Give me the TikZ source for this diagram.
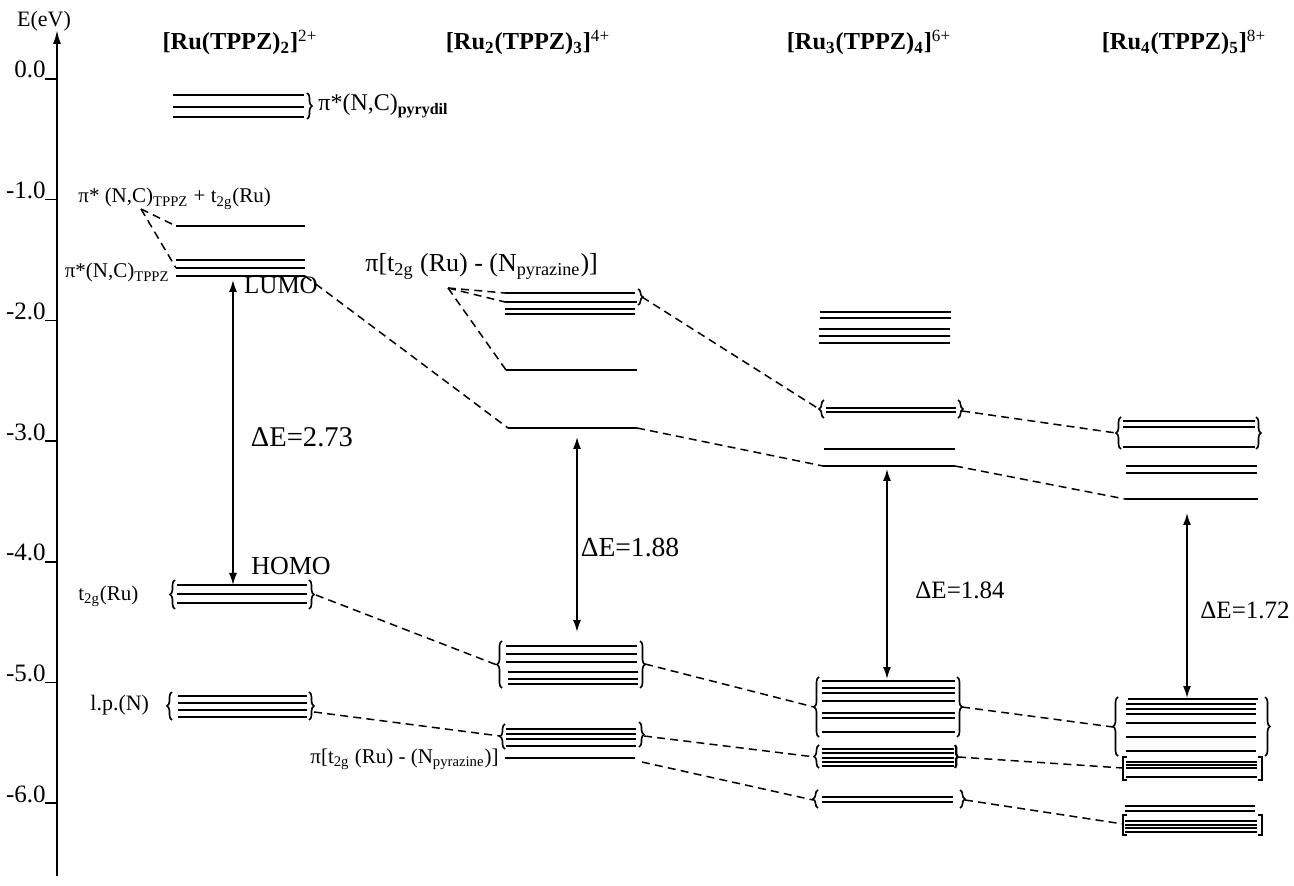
\documentclass[tikz,border=0pt]{standalone}
\usepackage{fontspec}
\setmainfont{Liberation Serif}
\usetikzlibrary{arrows.meta,decorations.pathreplacing}
\begin{document}
\begin{tikzpicture}[x=0.5pt,y=-0.5pt,
 lvl/.style={line width=0.9pt},
 dsh/.style={line width=0.75pt, dash pattern=on 4pt off 2.6pt},
 brc/.style={line width=0.8pt, decorate, decoration={brace,amplitude=2.5pt}},
 sqb/.style={line width=0.9pt},
 tx/.style={font=\fontsize{10.5}{12}\selectfont, inner sep=0pt},
 ttl/.style={font=\fontsize{12.2}{15}\selectfont, inner sep=0pt},
 big/.style={font=\fontsize{12.5}{15}\selectfont, inner sep=0pt},
 dar/.style={line width=0.8pt, {Latex[length=6pt,width=4pt]}-{Latex[length=6pt,width=4pt]}}
]
\useasboundingbox (0,0) rectangle (1294,886);
% axis
\coordinate (ax0) at (57,876);
\coordinate (ax1) at (57,30);
\draw[line width=1pt,-{Latex[length=7pt,width=4pt]}] (ax0) -- (ax1);
\node[tx,anchor=base,font=\fontsize{11}{13}\selectfont] (elab) at (44,27) {E(eV)};
\foreach \lab [count=\k from 0] in {0.0,-1.0,-2.0,-3.0,-4.0,-5.0,-6.0} {
  \pgfmathsetmacro\yy{79+120.7*\k}
  \draw[line width=0.8pt] (45,\yy) -- (57,\yy);
  \node[tx,anchor=base east,font=\fontsize{12.5}{14}\selectfont] (tk\k) at (46,\yy-1) {\lab};
}
% titles
\node[ttl,anchor=base] (T1) at (240,50) {\textbf{[Ru(TPPZ)\textsubscript{2}]}\textsuperscript{2+}};
\node[ttl,anchor=base] (T2) at (528,50) {\textbf{[Ru\textsubscript{2}(TPPZ)\textsubscript{3}]}\textsuperscript{4+}};
\node[ttl,anchor=base] (T3) at (869,50) {\textbf{[Ru\textsubscript{3}(TPPZ)\textsubscript{4}]}\textsuperscript{6+}};
\node[ttl,anchor=base] (T4) at (1184,50) {\textbf{[Ru\textsubscript{4}(TPPZ)\textsubscript{5}]}\textsuperscript{8+}};

% ---------- column 1 ----------
\foreach \y in {95,107,117} \draw[lvl] (173,\y) -- (304,\y);
\draw[brc] (307,93) -- (307,119);
\node[tx,anchor=base west,font=\fontsize{12}{14}\selectfont] (pyr) at (318,111) {π*(N,C)\textsubscript{\textbf{pyrydil}}};
\node[tx,anchor=base west] (mix) at (78,203) {π* (N,C)\textsubscript{TPPZ} + t\textsubscript{2g}(Ru)};
\coordinate (mixp) at (141,209);
\draw[lvl] (176,226) coordinate (m1) -- (305,226);
\draw[lvl] (176,260) -- (305,260);
\draw[lvl] (176,268) coordinate (m2) -- (305,268);
\draw[lvl] (176,276) -- (305,276) coordinate (lumo1);
\node[tx,anchor=base east] (tppz) at (170,278) {π*(N,C)\textsubscript{TPPZ}};
\draw[dsh] (mixp) -- (m1);
\draw[dsh] (mixp) -- (m2);
\node[big] (lumo) at (281,285) {LUMO};
\node[big,font=\fontsize{13}{15}\selectfont] (homo) at (291,566) {HOMO};
\coordinate (a1t) at (233,280);
\coordinate (a1b) at (233,585);
\draw[dar] (a1t) -- (a1b);
\node[big,font=\fontsize{14.3}{16}\selectfont] (de1) at (302,437) {ΔE=2.73};
\foreach \y in {585,594,603} \draw[lvl] (177,\y) -- (307,\y);
\draw[brc] (175,609) -- (175,580);
\draw[brc] (309,580) -- (309,609);
\coordinate (c1h) at (316,595);
\node[tx,anchor=base west] (t2g) at (78,600) {t\textsubscript{2g}(Ru)};
\foreach \y in {696,703,710,717} \draw[lvl] (178,\y) -- (307,\y);
\draw[brc] (172,720) -- (172,692);
\draw[brc] (309,692) -- (309,720);
\coordinate (c1l) at (314,712);
\node[tx,anchor=base west,font=\fontsize{11}{13}\selectfont] (lp) at (90,710) {l.p.(N)};

% ---------- column 2 ----------
\node[tx,anchor=base west,font=\fontsize{13}{15}\selectfont] (pz1) at (365,272) {π[t\textsubscript{2g} (Ru) - (N\textsubscript{pyrazine})]};
\coordinate (pz1p) at (448,288);
\draw[lvl] (505,293) coordinate (p1) -- (635,293);
\draw[lvl] (505,302) coordinate (p2) -- (637,302);
\draw[lvl] (505,309) -- (635,309);
\draw[lvl] (505,314) -- (635,314);
\draw[brc] (638,289) -- (638,305);
\coordinate (c2t) at (642,297);
\draw[lvl] (506,370) coordinate (p3) -- (637,370);
\draw[lvl] (508,428) coordinate (c2lu) -- (637,428) coordinate (c2lur);
\draw[dsh] (pz1p) -- (p1);
\draw[dsh] (pz1p) -- (p2);
\draw[dsh] (pz1p) -- (p3);
\draw[dsh] (lumo1) -- (c2lu);
\coordinate (a2t) at (577,437);
\coordinate (a2b) at (577,632);
\draw[dar] (a2t) -- (a2b);
\node[big,font=\fontsize{13.8}{16}\selectfont] (de2) at (630,548) {ΔE=1.88};
\foreach \y in {646,654,662} \draw[lvl] (506,\y) -- (637,\y);
\foreach \y in {672,679,684} \draw[lvl] (508,\y) -- (638,\y);
\draw[brc] (502,688) -- (502,641);
\draw[brc] (640,641) -- (640,688);
\coordinate (c2hl) at (497,665);
\coordinate (c2hr) at (645,664);
\foreach \y in {729,734,739,746} \draw[lvl] (506,\y) -- (636,\y);
\draw[brc] (505,749) -- (505,724);
\draw[brc] (639,722) -- (639,747);
\coordinate (c2gl) at (500,736);
\coordinate (c2gr) at (644,736);
\draw[lvl] (505,758) -- (635,758);
\coordinate (c2b) at (642,762);
\node[tx,anchor=base west] (pz2) at (310,763) {π[t\textsubscript{2g} (Ru) - (N\textsubscript{pyrazine})]};
\draw[dsh] (c1h) -- (c2hl);
\draw[dsh] (c1l) -- (c2gl);

% ---------- column 3 ----------
\foreach \y in {312,318} \draw[lvl] (820,\y) -- (951,\y);
\foreach \y in {329,336,343} \draw[lvl] (819,\y) -- (950,\y);
\foreach \y in {408,412} \draw[lvl] (826,\y) -- (956,\y);
\draw[brc] (824,418) -- (824,400);
\draw[brc] (958,400) -- (958,418);
\coordinate (c3gl) at (819,409);
\coordinate (c3gr) at (962,411);
\draw[lvl] (824,449) -- (955,449);
\draw[lvl] (823,466) coordinate (c3lu) -- (955,466) coordinate (c3lur);
\draw[dsh] (c2t) -- (c3gl);
\draw[dsh] (c2lur) -- (c3lu);
\coordinate (a3t) at (887,469);
\coordinate (a3b) at (887,679);
\draw[dar] (a3t) -- (a3b);
\node[big] (de3) at (960,590) {ΔE=1.84};
\foreach \y in {681,688,693,701,713,718,732} \draw[lvl] (822,\y) -- (955,\y);
\draw[brc] (819,737) -- (819,677);
\draw[brc] (957,677) -- (957,737);
\coordinate (c3hl) at (814,707);
\coordinate (c3hr) at (962,707);
\foreach \y in {749,753,758,762,766} \draw[lvl] (822,\y) -- (954,\y);
\draw[brc] (819,768) -- (819,745);
\draw[brc,decoration={brace,amplitude=1.2pt},line width=1.1pt] (955,745) -- (955,768);
\coordinate (c3gl2) at (815,757);
\coordinate (c3gr2) at (958,757);
\foreach \y in {797,802} \draw[lvl] (822,\y) -- (953,\y);
\draw[brc] (818,808) -- (818,790);
\draw[brc] (960,790) -- (960,808);
\coordinate (c3bl) at (813,800);
\coordinate (c3br) at (965,800);
\draw[dsh] (c2hr) -- (c3hl);
\draw[dsh] (c2gr) -- (c3gl2);
\draw[dsh] (c2b) -- (c3bl);

% ---------- column 4 ----------
\foreach \y in {421,427,447} \draw[lvl] (1123,\y) -- (1255,\y);
\draw[brc] (1121,449) -- (1121,417);
\draw[brc] (1256,417) -- (1256,449);
\coordinate (c4gl) at (1116,433);
\foreach \y in {466,473} \draw[lvl] (1126,\y) -- (1257,\y);
\draw[lvl] (1125,499) coordinate (c4lu) -- (1258,499);
\draw[dsh] (c3gr) -- (c4gl);
\draw[dsh] (c3lur) -- (c4lu);
\coordinate (a4t) at (1187,513);
\coordinate (a4b) at (1187,698);
\draw[dar] (a4t) -- (a4b);
\node[big] (de4) at (1245,610) {ΔE=1.72};
\draw[lvl] (1128,699) -- (1258,699);
\foreach \y in {704,709,714,723,737,751} \draw[lvl] (1126,\y) -- (1256,\y);
\draw[brc] (1118,756) -- (1118,697);
\draw[brc] (1265,697) -- (1265,756);
\coordinate (c4hl) at (1113,727);
\foreach \y in {762,765,768,777} \draw[lvl] (1126,\y) -- (1257,\y);
\draw[sqb] (1127,757) -- (1123,757) -- (1123,780) -- (1127,780);
\draw[sqb] (1258,757) -- (1262,757) -- (1262,780) -- (1258,780);
\coordinate (c4gl2) at (1123,768);
\foreach \y in {806,811} \draw[lvl] (1125,\y) -- (1255,\y);
\foreach \y in {821,825,828,832} \draw[lvl] (1125,\y) -- (1257,\y);
\draw[sqb] (1127,815) -- (1123,815) -- (1123,835) -- (1127,835);
\draw[sqb] (1258,815) -- (1262,815) -- (1262,835) -- (1258,835);
\coordinate (c4bl) at (1123,824);
\draw[dsh] (c3hr) -- (c4hl);
\draw[dsh] (c3gr2) -- (c4gl2);
\draw[dsh] (c3br) -- (c4bl);
\end{tikzpicture}
\end{document}
